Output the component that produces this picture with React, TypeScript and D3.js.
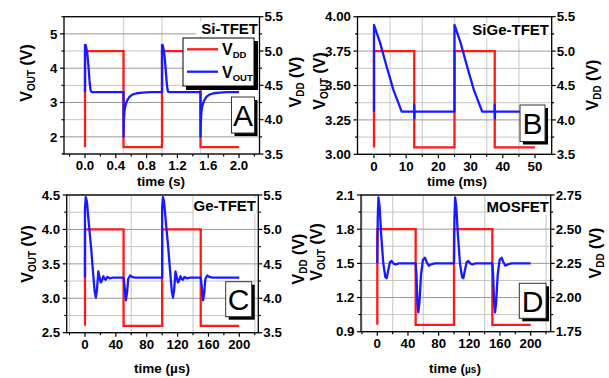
import React from "react";
import * as d3 from "d3";

type Pt = [number, number];

// ---- Panel A: Si-TFET (time in s) ----
const vddA: Pt[] = [[0, 3.6], [0, 5.0], [0.5, 5.0], [0.5, 3.6], [1.0, 3.6], [1.0, 5.0], [1.5, 5.0], [1.5, 3.6], [2.0, 3.6]];
const voutA: Pt[] = [
  [0, 3.3], [0, 4.68], [0.006, 4.68], [0.016, 4.6], [0.03, 4.42], [0.045, 4.05], [0.058, 3.65], [0.068, 3.42], [0.078, 3.32], [0.095, 3.3],
  [0.5, 3.3], [0.5, 2.0], [0.504, 2.45], [0.512, 2.74], [0.525, 2.92], [0.545, 3.05], [0.575, 3.16], [0.615, 3.23], [0.67, 3.27], [0.75, 3.29], [0.85, 3.3],
  [1.0, 3.3], [1.0, 4.68], [1.006, 4.68], [1.016, 4.6], [1.03, 4.42], [1.045, 4.05], [1.058, 3.65], [1.068, 3.42], [1.078, 3.32], [1.095, 3.3],
  [1.5, 3.3], [1.5, 2.0], [1.504, 2.45], [1.512, 2.74], [1.525, 2.92], [1.545, 3.05], [1.575, 3.16], [1.615, 3.23], [1.67, 3.27], [1.75, 3.29], [1.85, 3.3], [2.0, 3.3],
];
const xTicksA = [0, 0.4, 0.8, 1.2, 1.6, 2.0];
const xMinorA = [-0.2, 0.2, 0.6, 1.0, 1.4, 1.8, 2.2];
const yLeftTicksA = [2, 3, 4, 5];
const yLeftMinorA = [1.5, 2.5, 3.5, 4.5, 5.5];
const vGridA = [0.5, 1.0, 1.5];

// ---- Panel B: SiGe-TFET (time in ms) ----
const vddB: Pt[] = [[0, 3.6], [0, 5.0], [12.5, 5.0], [12.5, 3.6], [25, 3.6], [25, 5.0], [37.5, 5.0], [37.5, 3.6], [50, 3.6]];
const voutB: Pt[] = [
  [0, 3.31], [0, 3.94], [1.9, 3.81], [3.9, 3.64], [6.0, 3.47], [8.6, 3.31],
  [12.45, 3.31], [12.5, 3.36], [12.55, 3.26], [12.6, 3.31],
  [25, 3.31], [25, 3.94], [26.9, 3.81], [28.9, 3.64], [31.0, 3.47], [33.6, 3.31],
  [37.45, 3.31], [37.5, 3.36], [37.55, 3.26], [37.6, 3.31], [50, 3.31],
];
const xTicksB = [0, 10, 20, 30, 40, 50];
const xMinorB = [5, 15, 25, 35, 45];
const yLeftTicksB = [3.0, 3.25, 3.5, 3.75, 4.0];
const yLeftMinorB = [3.125, 3.375, 3.625, 3.875];
const vGridB = [5, 15, 25, 35, 45];

// ---- Panel C: Ge-TFET (time in µs) ----
const vddC: Pt[] = [[0, 3.6], [0, 5.0], [50, 5.0], [50, 3.6], [100, 3.6], [100, 5.0], [150, 5.0], [150, 3.6], [200, 3.6]];
const voutC: Pt[] = [
  [0, 3.3], [0, 4.3], [1, 4.47], [2.5, 4.4], [5, 4.08], [8, 3.72], [11, 3.3], [12.5, 3.1], [14, 3.01], [15.5, 3.12], [17.3, 3.39],
  [19, 3.3], [20.5, 3.23], [22, 3.26], [23.8, 3.32], [25.5, 3.28], [27, 3.27], [29, 3.31], [32, 3.29], [36, 3.3],
  [50, 3.3], [51.5, 3.15], [53, 2.97], [54.5, 3.08], [56, 3.28], [58.5, 3.33], [61, 3.31], [65, 3.3],
  [100, 3.3], [100, 4.3], [101, 4.47], [102.5, 4.4], [105, 4.08], [108, 3.72], [111, 3.3], [112.5, 3.1], [114, 3.01], [115.5, 3.12], [117.3, 3.39],
  [119, 3.3], [120.5, 3.23], [122, 3.26], [123.8, 3.32], [125.5, 3.28], [127, 3.27], [129, 3.31], [132, 3.29], [136, 3.3],
  [150, 3.3], [151.5, 3.15], [153, 2.97], [154.5, 3.08], [156, 3.28], [158.5, 3.33], [161, 3.31], [165, 3.3], [200, 3.3],
];
const xTicksC = [0, 40, 80, 120, 160, 200];
const xMinorC = [-20, 20, 60, 100, 140, 180, 220];
const yLeftTicksC = [2.5, 3.0, 3.5, 4.0, 4.5];
const yLeftMinorC = [2.75, 3.25, 3.75, 4.25];
const vGridC = [-20, 60, 140, 220];

// ---- Panel D: MOSFET (time in µs) ----
const vddD: Pt[] = [[0, 1.8], [0, 2.5], [50, 2.5], [50, 1.8], [100, 1.8], [100, 2.5], [150, 2.5], [150, 1.8], [200, 1.8]];
const voutD: Pt[] = [
  [0, 1.5], [0.6, 1.9], [1.5, 2.08], [3, 2.0], [5, 1.76], [7.8, 1.5], [10.5, 1.38], [12.2, 1.37], [14, 1.43], [16.5, 1.51], [18.7, 1.52],
  [21, 1.5], [24, 1.49], [28, 1.5],
  [50, 1.5], [51, 1.4], [52.3, 1.16], [53.5, 1.07], [55, 1.16], [57, 1.4], [59.5, 1.53], [62, 1.55], [64.5, 1.51], [67, 1.48], [70, 1.49], [75, 1.5],
  [100, 1.5], [100.6, 1.9], [101.5, 2.08], [103, 2.0], [105, 1.76], [107.8, 1.5], [110.5, 1.38], [112.2, 1.37], [114, 1.43], [116.5, 1.51], [118.7, 1.52],
  [121, 1.5], [124, 1.49], [128, 1.5],
  [150, 1.5], [151, 1.4], [152.3, 1.16], [153.5, 1.07], [155, 1.16], [157, 1.4], [159.5, 1.53], [162, 1.55], [164.5, 1.51], [167, 1.48], [170, 1.49], [175, 1.5], [200, 1.5],
];
const xTicksD = [0, 40, 80, 120, 160, 200];
const xMinorD = [-20, 20, 60, 100, 140, 180, 220];
const yLeftTicksD = [0.9, 1.2, 1.5, 1.8, 2.1];
const yLeftMinorD = [1.05, 1.35, 1.65, 1.95];
const vGridD = [-20, 20, 60, 140, 220];

// right (VDD) axes
const yRightTicksSi = [3.5, 4.0, 4.5, 5.0, 5.5];
const yRightMinorSi = [3.75, 4.25, 4.75, 5.25];
const yRightTicksD = [1.75, 2.0, 2.25, 2.5, 2.75];
const yRightMinorD = [1.875, 2.125, 2.375, 2.625];

const FONT = "'Liberation Sans', Arial, Helvetica, sans-serif";
const RED = "#ff1a1a";
const BLUE = "#1a1aff";

const panels = [
  {
    key: "A", title: "Si-TFET", letter: "A", unit: "s", smallUnit: false,
    x0: 64, x1: 259.5, y0: 16.7, y1: 154,
    xDomain: [-0.273, 2.266], yLeft: [1.5, 5.5], yRight: [3.5, 5.5],
    xTicks: xTicksA, xMinor: xMinorA, xFmt: ".1f",
    yLTicks: yLeftTicksA, yLMinor: yLeftMinorA, yLFmt: "d",
    yRTicks: yRightTicksSi, yRMinor: yRightMinorSi, yRFmt: ".1f",
    vGrid: vGridA, vdd: vddA, vout: voutA,
    titleRight: 258, titleBase: 33.5,
    box: { x: 231.5, y: 97, w: 23, h: 36 },
    leftLab: { x: 32, y: 73 }, rightLab: { x: 301, y: 82 }, xLab: { x: 161, y: 186 },
    legend: true,
  },
  {
    key: "B", title: "SiGe-TFET", letter: "B", unit: "ms", smallUnit: false,
    x0: 357.5, x1: 551.7, y0: 16.7, y1: 154.3,
    xDomain: [-5.12, 55.19], yLeft: [3.0, 4.0], yRight: [3.5, 5.5],
    xTicks: xTicksB, xMinor: xMinorB, xFmt: "d",
    yLTicks: yLeftTicksB, yLMinor: yLeftMinorB, yLFmt: ".2f",
    yRTicks: yRightTicksSi, yRMinor: yRightMinorSi, yRFmt: ".1f",
    vGrid: vGridB, vdd: vddB, vout: voutB,
    titleRight: 549, titleBase: 35,
    box: { x: 520, y: 105, w: 25, h: 36.5 },
    leftLab: { x: 325, y: 81 }, rightLab: { x: 598, y: 85 }, xLab: { x: 457, y: 186 },
    legend: false,
  },
  {
    key: "C", title: "Ge-TFET", letter: "C", unit: "µs", smallUnit: false,
    x0: 66.7, x1: 258.3, y0: 195, y1: 332.7,
    xDomain: [-23.7, 224.6], yLeft: [2.5, 4.5], yRight: [3.5, 5.5],
    xTicks: xTicksC, xMinor: xMinorC, xFmt: "d",
    yLTicks: yLeftTicksC, yLMinor: yLeftMinorC, yLFmt: ".1f",
    yRTicks: yRightTicksSi, yRMinor: yRightMinorSi, yRFmt: ".1f",
    vGrid: vGridC, vdd: vddC, vout: voutC,
    titleRight: 256, titleBase: 210.5,
    box: { x: 225.7, y: 281.7, w: 26, h: 35 },
    leftLab: { x: 33, y: 254 }, rightLab: { x: 304, y: 259 }, xLab: { x: 162, y: 373 },
    legend: false,
  },
  {
    key: "D", title: "MOSFET", letter: "D", unit: "µs", smallUnit: true,
    x0: 361, x1: 550.7, y0: 195, y1: 331.7,
    xDomain: [-21.25, 226.1], yLeft: [0.9, 2.1], yRight: [1.75, 2.75],
    xTicks: xTicksD, xMinor: xMinorD, xFmt: "d",
    yLTicks: yLeftTicksD, yLMinor: yLeftMinorD, yLFmt: ".1f",
    yRTicks: yRightTicksD, yRMinor: yRightMinorD, yRFmt: ".2f",
    vGrid: vGridD, vdd: vddD, vout: voutD,
    titleRight: 549, titleBase: 212,
    box: { x: 519.3, y: 283.3, w: 26.7, h: 35 },
    leftLab: { x: 322, y: 252 }, rightLab: { x: 601, y: 253 }, xLab: { x: 455, y: 373 },
    legend: false,
  },
];

function Panel({ p }: { p: any }) {
  const x = d3.scaleLinear().domain(p.xDomain).range([p.x0, p.x1]);
  const yL = d3.scaleLinear().domain(p.yLeft).range([p.y1, p.y0]);
  const yR = d3.scaleLinear().domain(p.yRight).range([p.y1, p.y0]);
  const vddLine = d3.line<Pt>().x((d) => x(d[0])).y((d) => yR(d[1]));
  const voutLine = d3.line<Pt>().x((d) => x(d[0])).y((d) => yL(d[1]));
  const fx = d3.format(p.xFmt);
  const fl = d3.format(p.yLFmt);
  const fr = d3.format(p.yRFmt);
  const titleW = p.title.length * 8.6;

  return (
    <g fontFamily={FONT}>
      {/* grid */}
      {p.vGrid.map((t: number) => (
        <line key={"vg" + t} x1={x(t)} x2={x(t)} y1={p.y0} y2={p.y1} stroke="#d2d2d2" strokeWidth={1.3} />
      ))}
      {p.yLMinor.map((v: number) => (
        <line key={"hm" + v} x1={p.x0} x2={p.x1} y1={yL(v)} y2={yL(v)} stroke="#c4c4c4" strokeWidth={1} />
      ))}
      {p.yLTicks.map((v: number) => (
        <line key={"hg" + v} x1={p.x0} x2={p.x1} y1={yL(v)} y2={yL(v)} stroke="#9a9a9a" strokeWidth={1} />
      ))}

      {/* series */}
      <path d={vddLine(p.vdd) || ""} fill="none" stroke={RED} strokeWidth={2.3} strokeLinejoin="miter" />
      <path d={voutLine(p.vout) || ""} fill="none" stroke={BLUE} strokeWidth={2.3} strokeLinejoin="round" />

      {/* frame */}
      <rect x={p.x0} y={p.y0} width={p.x1 - p.x0} height={p.y1 - p.y0} fill="none" stroke="#000" strokeWidth={1.3} />

      {/* bottom axis */}
      {p.xTicks.map((t: number) => (
        <g key={"xt" + t}>
          <line x1={x(t)} x2={x(t)} y1={p.y1} y2={p.y1 + 4} stroke="#000" strokeWidth={1.2} />
          <text x={x(t)} y={p.y1 + 16.3} textAnchor="middle" fontSize={13.3} fontWeight="bold">{fx(t)}</text>
        </g>
      ))}
      {p.xMinor.map((t: number) => (
        <line key={"xm" + t} x1={x(t)} x2={x(t)} y1={p.y1} y2={p.y1 + 2.5} stroke="#000" strokeWidth={1.2} />
      ))}

      {/* left axis */}
      {p.yLTicks.map((v: number) => (
        <g key={"yl" + v}>
          <line x1={p.x0 - 4} x2={p.x0} y1={yL(v)} y2={yL(v)} stroke="#000" strokeWidth={1.2} />
          <text x={p.x0 - 6.5} y={yL(v) + 4.7} textAnchor="end" fontSize={13.3} fontWeight="bold">{fl(v)}</text>
        </g>
      ))}
      {p.yLMinor.map((v: number) => (
        <line key={"ylm" + v} x1={p.x0 - 2.5} x2={p.x0} y1={yL(v)} y2={yL(v)} stroke="#000" strokeWidth={1.2} />
      ))}

      {/* right axis */}
      {p.yRTicks.map((v: number) => (
        <g key={"yr" + v}>
          <line x1={p.x1} x2={p.x1 + 4} y1={yR(v)} y2={yR(v)} stroke="#000" strokeWidth={1.2} />
          <text x={p.x1 + 5} y={yR(v) + 4.7} textAnchor="start" fontSize={13.3} fontWeight="bold">{fr(v)}</text>
        </g>
      ))}
      {p.yRMinor.map((v: number) => (
        <line key={"yrm" + v} x1={p.x1} x2={p.x1 + 2.5} y1={yR(v)} y2={yR(v)} stroke="#000" strokeWidth={1.2} />
      ))}

      {/* axis titles */}
      <text transform={`translate(${p.leftLab.x},${p.leftLab.y}) rotate(-90)`} textAnchor="middle" fontSize={16} fontWeight="bold">
        V<tspan fontSize={10} dy={3}>OUT</tspan><tspan dy={-3}> (V)</tspan>
      </text>
      <text transform={`translate(${p.rightLab.x},${p.rightLab.y}) rotate(-90)`} textAnchor="middle" fontSize={16} fontWeight="bold">
        V<tspan fontSize={10} dy={3}>DD</tspan><tspan dy={-3}> (V)</tspan>
      </text>
      <text x={p.xLab.x} y={p.xLab.y} textAnchor="middle" fontSize={13.5} fontWeight="bold">
        time (
        {p.smallUnit ? <tspan fontSize={10}>{p.unit}</tspan> : p.unit}
        )
      </text>

      {/* device label */}
      <rect x={p.titleRight - titleW - 2} y={p.titleBase - 12} width={titleW + 2} height={15} fill="#fff" />
      <text x={p.titleRight} y={p.titleBase} textAnchor="end" fontSize={15} fontWeight="bold">{p.title}</text>

      {/* legend */}
      {p.legend && (
        <g>
          <rect x={186} y={41} width={72} height={49} fill="#000" />
          <rect x={183} y={38} width={71} height={48} fill="#fff" stroke="#000" strokeWidth={1} />
          <line x1={187} x2={218} y1={49.3} y2={49.3} stroke={RED} strokeWidth={2.3} />
          <line x1={187} x2={218} y1={71.7} y2={71.7} stroke={BLUE} strokeWidth={2.3} />
          <text x={222} y={55} fontSize={16} fontWeight="bold">V<tspan fontSize={9.5} dy={3}>DD</tspan></text>
          <text x={222} y={78} fontSize={16} fontWeight="bold">V<tspan fontSize={9.5} dy={3}>OUT</tspan></text>
        </g>
      )}

      {/* panel letter box */}
      <rect x={p.box.x + 3} y={p.box.y + 3} width={p.box.w} height={p.box.h} fill="#000" />
      <rect x={p.box.x} y={p.box.y} width={p.box.w} height={p.box.h} fill="#fff" stroke="#333" strokeWidth={1} />
      <text x={p.box.x + p.box.w / 2} y={p.box.y + p.box.h / 2 + 10.8} textAnchor="middle" fontSize={30}>{p.letter}</text>
    </g>
  );
}

export default function App() {
  return (
    <svg
      width={609}
      height={378}
      viewBox="0 0 609 378"
      style={{ position: "absolute", left: 0, top: 0, background: "#fff" }}
    >
      <rect width={609} height={378} fill="#fff" />
      {panels.map((p) => (
        <Panel key={p.key} p={p} />
      ))}
    </svg>
  );
}
